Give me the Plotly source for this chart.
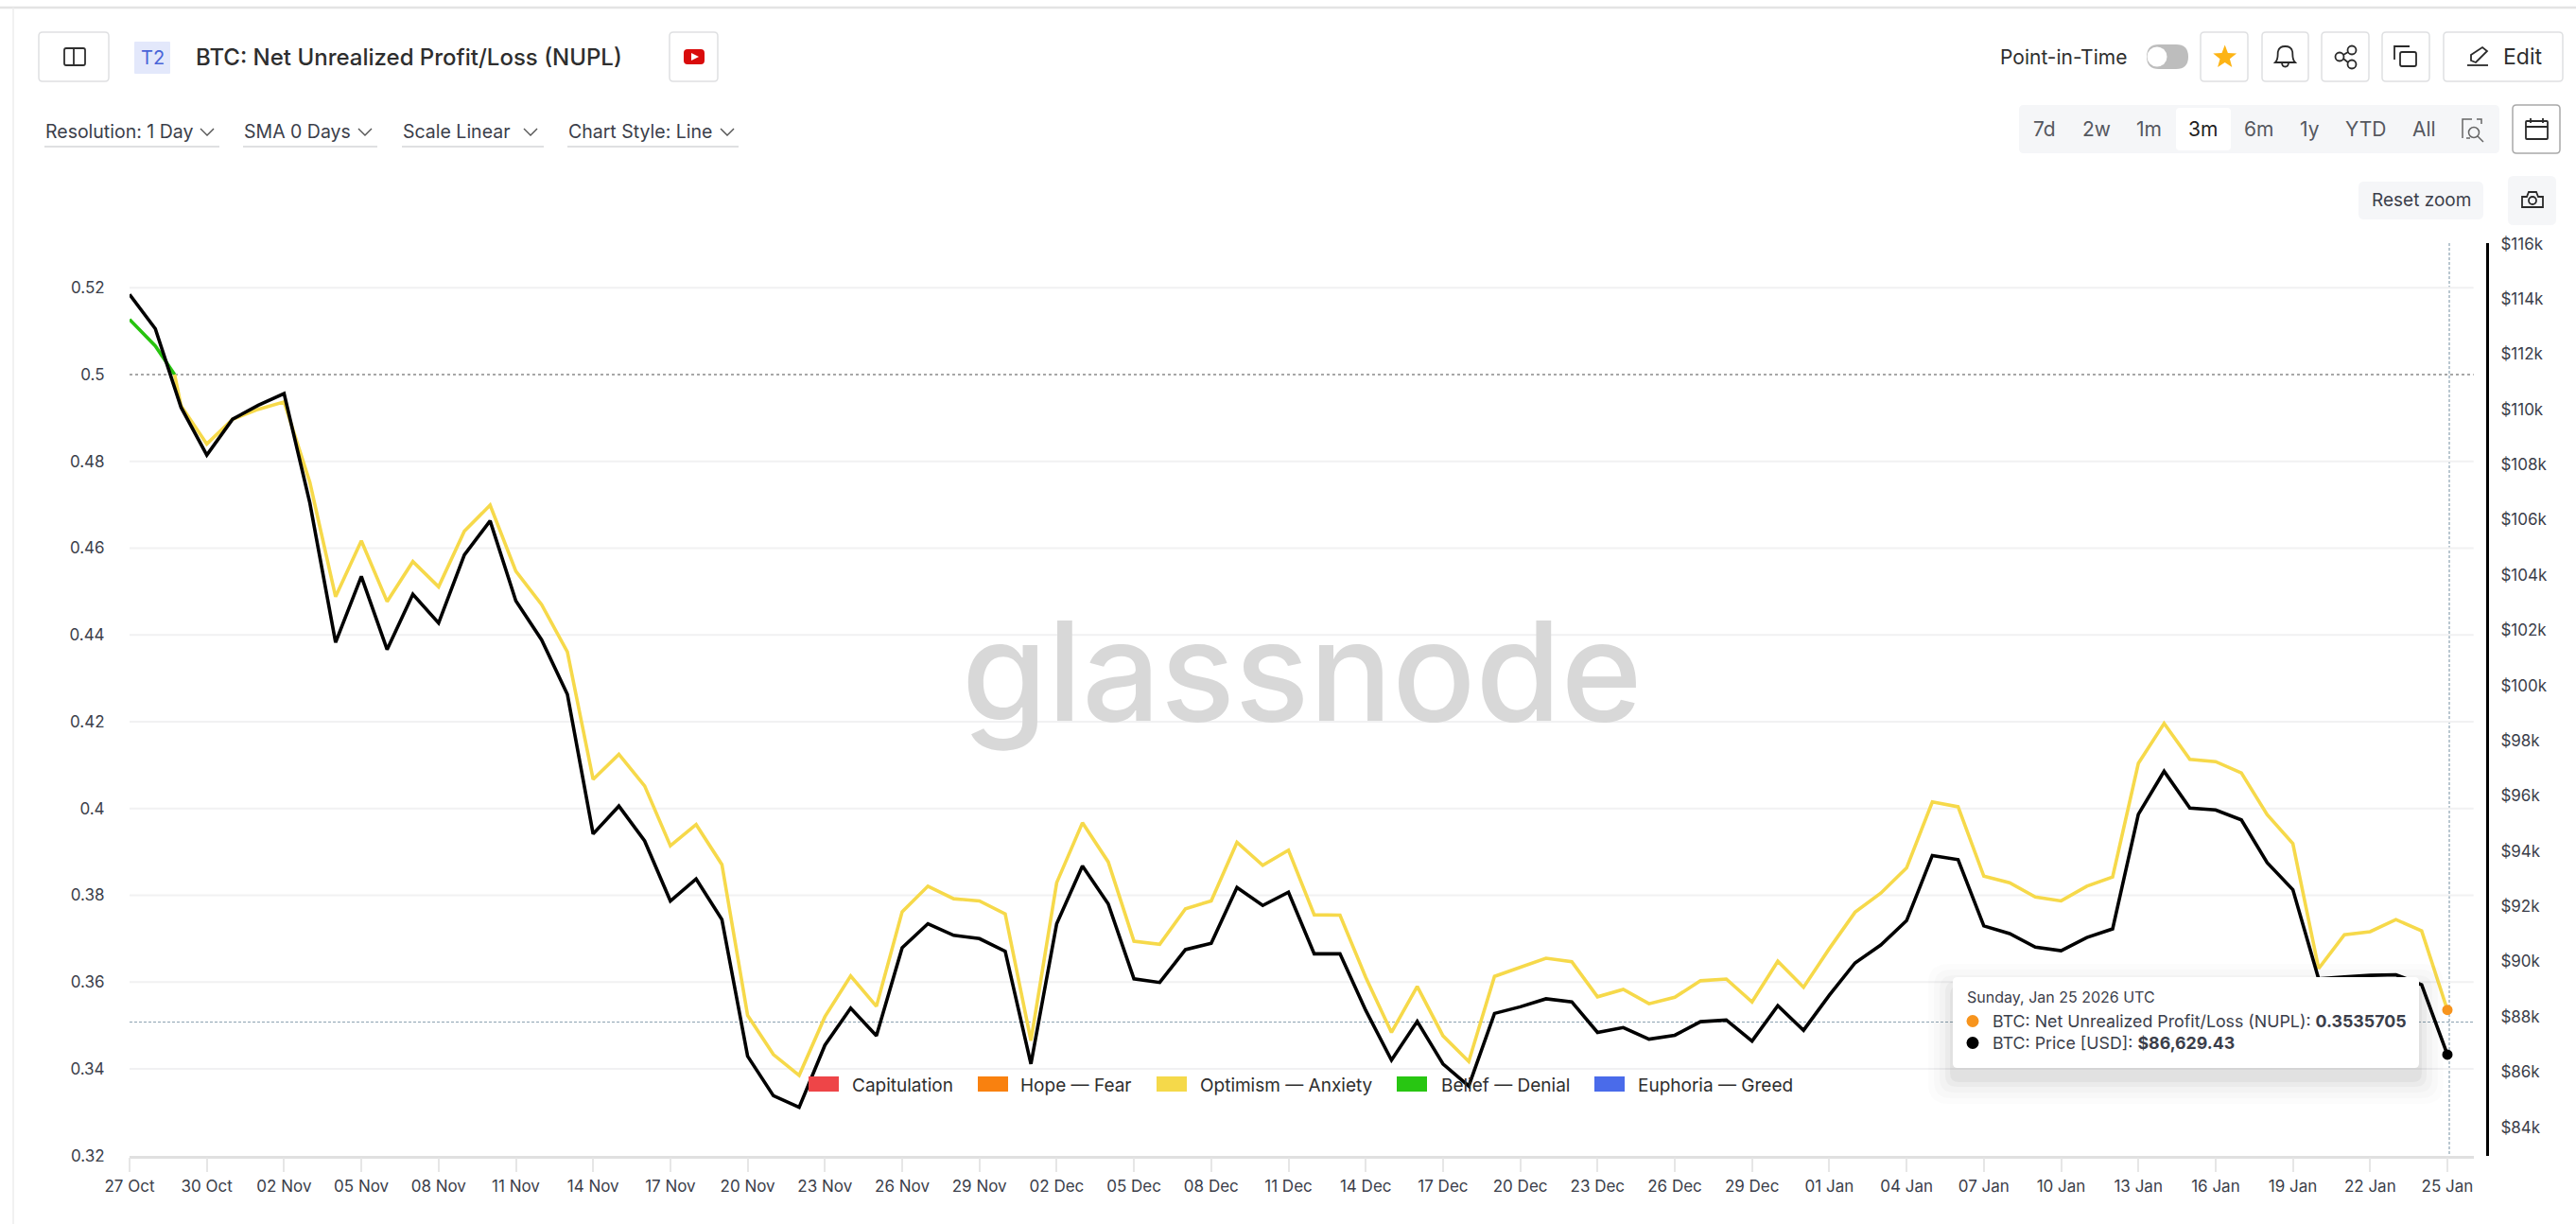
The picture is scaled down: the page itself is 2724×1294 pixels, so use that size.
import math
import re
import pandas as pd
import plotly.graph_objects as go

W = 2724
H = 1294
FONT = "Inter"
TEXT = "#3b3e4a"
BORDER = "#dfe0e2"
PANEL = "#f5f6f8"

# Daily values, 27 Oct 2025 to 25 Jan 2026
dates = pd.date_range("2025-10-27", periods=91, freq="D")

nupl = [
    0.5127, 0.5066, 0.4928, 0.4840, 0.4897, 0.4920, 0.4937, 0.4752, 0.4488, 0.4617,
    0.4477, 0.4569, 0.4511, 0.4639, 0.4699, 0.4547, 0.4470, 0.4361, 0.4067, 0.4125,
    0.4052, 0.3914, 0.3963, 0.3871, 0.3523, 0.3433, 0.3385, 0.3520, 0.3614, 0.3544,
    0.3762, 0.3821, 0.3792, 0.3787, 0.3757, 0.3465, 0.3829, 0.3967, 0.3877, 0.3694,
    0.3687, 0.3769, 0.3787, 0.3922, 0.3869, 0.3904, 0.3755, 0.3754, 0.3611, 0.3484,
    0.3590, 0.3476, 0.3417, 0.3613, 0.3634, 0.3655, 0.3647, 0.3566, 0.3583, 0.3550,
    0.3565, 0.3603, 0.3607, 0.3554, 0.3648, 0.3588, 0.3677, 0.3761, 0.3805, 0.3863,
    0.4015, 0.4004, 0.3844, 0.3829, 0.3796, 0.3787, 0.3821, 0.3842, 0.4104, 0.4196,
    0.4113, 0.4108, 0.4082, 0.3986, 0.3919, 0.3631, 0.3709, 0.3716, 0.3744, 0.3718,
    0.3535705,
]

price = [
    114160, 112920, 110070, 108340, 109640, 110150, 110570, 106610, 101560, 103950,
    101300, 103300, 102260, 104730, 105960, 103060, 101650, 99680, 94620, 95630,
    94370, 92190, 92990, 91520, 86570, 85140, 84720, 86970, 88310, 87310,
    90500, 91370, 90950, 90830, 90370, 86290, 91370, 93460, 92090, 89370,
    89240, 90430, 90660, 92680, 92030, 92510, 90280, 90280, 88230, 86430,
    87830, 86290, 85490, 88120, 88360, 88650, 88540, 87430, 87610, 87190,
    87330, 87820, 87880, 87120, 88400, 87510, 88780, 89950, 90600, 91480,
    93840, 93690, 91290, 91010, 90520, 90390, 90870, 91180, 95330, 96890,
    95560, 95490, 95130, 93580, 92600, 89370, 89440, 89500, 89520, 89160,
    86629.43,
]

# Where NUPL drops through 0.5 and the line turns from green to yellow
cross_date = pd.Timestamp("2025-10-28 18:00")
cross_value = 0.5

nupl_ticks = [0.32, 0.34, 0.36, 0.38, 0.4, 0.42, 0.44, 0.46, 0.48, 0.5, 0.52]
nupl_labels = ["0.32", "0.34", "0.36", "0.38", "0.4", "0.42", "0.44", "0.46", "0.48", "0.5", "0.52"]
price_ticks = list(range(84000, 118000, 2000))
price_labels = [f"${p // 1000}k" for p in price_ticks]

zones = ["Capitulation", "Hope — Fear", "Optimism — Anxiety", "Belief — Denial", "Euphoria — Greed"]
zone_colors = ["#ee4548", "#f9810f", "#f5d94a", "#28c612", "#4a6bea"]
zone_swatch_x = [855, 1034, 1223, 1477, 1686]
zone_text_x = [900, 1078, 1268, 1523, 1731]

dropdowns = ["Resolution: 1 Day", "SMA 0 Days", "Scale Linear", "Chart Style: Line"]
dropdown_x = [(47, 232, 219), (257, 399, 386), (425, 575, 561), (600, 781, 769)]

ranges = ["7d", "2w", "1m", "3m", "6m", "1y", "YTD", "All"]
range_x = [2162, 2217, 2272, 2329, 2388, 2442, 2501, 2563]


def fx(x):
    return x / W


def fy(y):
    return 1 - y / H


def to_paper(path):
    # Icon paths are written in screen pixels, shapes want paper fractions
    return re.sub(r"(-?[\d.]+),(-?[\d.]+)",
                  lambda m: f"{fx(float(m[1])):.5f},{fy(float(m[2])):.5f}", path)


def rrect(x0, y0, x1, y1, r):
    return (f"M{x0 + r},{y0} L{x1 - r},{y0} Q{x1},{y0} {x1},{y0 + r} L{x1},{y1 - r} "
            f"Q{x1},{y1} {x1 - r},{y1} L{x0 + r},{y1} Q{x0},{y1} {x0},{y1 - r} "
            f"L{x0},{y0 + r} Q{x0},{y0} {x0 + r},{y0} Z")


shapes = []
annotations = []


def path(d, line=None, fill=None, width=1.8, layer="above", dash=None):
    shapes.append(dict(type="path", path=to_paper(d), xref="paper", yref="paper", layer=layer,
                       line=dict(color=line or "rgba(0,0,0,0)", width=width if line else 0, dash=dash),
                       fillcolor=fill or "rgba(0,0,0,0)"))


def circle(cx, cy, r, line=None, fill=None, width=1.8, layer="above"):
    shapes.append(dict(type="circle", xref="paper", yref="paper", layer=layer,
                       x0=fx(cx - r), x1=fx(cx + r), y0=fy(cy + r), y1=fy(cy - r),
                       line=dict(color=line or "rgba(0,0,0,0)", width=width if line else 0),
                       fillcolor=fill or "rgba(0,0,0,0)"))


def text(x, y, s, size=20, color=TEXT, anchor="left", weight=400):
    annotations.append(dict(x=fx(x), y=fy(y), xref="paper", yref="paper", text=s, showarrow=False,
                            xanchor=anchor, yanchor="middle", borderpad=0,
                            font=dict(family=FONT, size=size, color=color, weight=weight)))


def button(x0, x1, y0=34, y1=86, border=BORDER):
    path(rrect(x0, y0, x1, y1, 4), line=border, fill="white", width=1.5)


# Page frame
path("M0,8 L2724,8", line="#e4e4e4", width=2.5)
path("M14,8 L14,1294", line="#ececec", width=1.5)

# Title row
button(41, 115)
path(rrect(68, 51, 90, 69, 2), line="#2f2f2f")
path("M78,51 L78,69", line="#2f2f2f")
path(rrect(142, 44, 180, 78, 1), fill="#e3e8fb")
text(161, 61, "T2", 20, "#4a64d8", "center")
text(206, 60, "BTC: Net Unrealized Profit/Loss (NUPL)", 24, "#2e2e2e", weight=500)
button(708, 759)
path(rrect(723, 52, 745, 68, 4), fill="#d90b0b")
path("M731,56 L739,60 L731,64 Z", fill="white")

# Dropdowns
for label, (x0, x1, chev) in zip(dropdowns, dropdown_x):
    text(x0, 139, label, 19.5)
    path(f"M{x0},155 L{x1},155", line=BORDER, width=1.8)
    path(f"M{chev - 7},136 L{chev},143 L{chev + 7},136", line="#555", width=1.4)

# Top right controls
text(2114, 60, "Point-in-Time", 21, "#2e2e2e")
path(rrect(2270, 47, 2314, 73, 13), fill="#bdbdbd")
circle(2281, 60, 10.5, fill="white")

button(2327, 2377)
star = []
for k in range(10):
    r = 13 if k % 2 == 0 else 5.5
    a = -math.pi / 2 + k * math.pi / 5
    star.append(f"{2352.7 + r * math.cos(a):.1f},{60.5 + r * math.sin(a):.1f}")
path("M" + " L".join(star) + " Z", fill="#fdb415")

button(2392, 2441)
path("M2406,66 C2410,62 2408,57 2409,54 C2410,50 2413,49 2416.5,49 C2420,49 2423,50 2424,54 "
     "C2425,57 2423,62 2427,66 Z", line="#2a2a2a")
path("M2413,66 C2413,72 2420,72 2420,66", line="#2a2a2a")

button(2455, 2505)
circle(2487, 53, 4.5, line="#2a2a2a")
circle(2474, 60, 4.5, line="#2a2a2a")
circle(2487, 68, 4.5, line="#2a2a2a")
path("M2478,58 L2483,55 M2478,62 L2483,66", line="#2a2a2a")

button(2519, 2569)
path(rrect(2538, 55, 2555, 70, 2), line="#2a2a2a")
path("M2532,63 L2532,49 L2548,49", line="#2a2a2a")

button(2584, 2710)
path("M2613,64 L2613,58 L2625,50 L2630,54 L2618,66 Z", line="#2a2a2a")
path("M2609,69 L2631,69", line="#2a2a2a")
text(2646, 60, "Edit", 23, "#2e2e2e")

# Range selector
path(rrect(2135, 111, 2643, 162, 5), fill=PANEL)
path(rrect(2301, 114, 2359, 159, 4), fill="white")
for label, x in zip(ranges, range_x):
    text(x, 136, label, 21, "#1f1f1f" if label == "3m" else "#55585f", "center")
path("M2614,126 L2604,126 L2604,146 M2608,146 L2612,146 M2619,126 L2624,126 L2624,131", line="#666", width=1.5)
circle(2616, 140, 5.5, line="#666", width=1.5)
path("M2620,144 L2626,150", line="#666", width=1.5)

button(2657, 2707, 111, 162, "#a9a9a9")
path(rrect(2671, 128, 2694, 147, 1), line="#2a2a2a")
path("M2671,134 L2694,134 M2676,125 L2676,130 M2689,125 L2689,130", line="#2a2a2a")

# Zoom controls
path(rrect(2494, 192, 2626, 232, 6), fill=PANEL)
text(2560, 212, "Reset zoom", 19, "#3b3e4a", "center")
path(rrect(2652, 186, 2703, 238, 6), fill=PANEL)
path("M2667,208 L2672,208 L2674,203 L2682,203 L2684,208 L2689,208 L2689,219 L2667,219 Z", line="#2a2a2a")
circle(2678, 212, 4, line="#2a2a2a")

# Watermark
text(1376, 709, "glassnode", 146, "#d8d8d8", "center", 500)

# Legend
for name, color, sx, tx in zip(zones, zone_colors, zone_swatch_x, zone_text_x):
    path(f"M{sx},1138 L{sx + 32},1138 L{sx + 32},1154 L{sx},1154 Z", fill=color)
    text(tx, 1147, name, 19, "#2e2e2e")

# Crosshair
path("M137,1080.5 L2616,1080.5", line="#8da3b2", width=1.2, layer="below", dash="3px,2px")
path("M2590,257 L2590,1221", line="#8da3b2", width=1.2, layer="below", dash="3px,2px")

# Tooltip with a soft stacked shadow
for grow, alpha in [(26, 0.012), (20, 0.016), (14, 0.02), (8, 0.03), (3, 0.04)]:
    path(rrect(2065 - grow, 1033 - grow + 12, 2558 + grow, 1129 + grow + 12, 8 + grow / 2),
         fill=f"rgba(0,0,0,{alpha})")
path(rrect(2065, 1033, 2558, 1129, 5), fill="white")
text(2079, 1054, "Sunday, Jan 25 2026 UTC", 16, "#3b3e4a")
circle(2086, 1079.5, 6.5, fill="#f7941d")
text(2106, 1079.5, "BTC: Net Unrealized Profit/Loss (NUPL): <b>0.3535705</b>", 17.8, "#3b3e4a")
circle(2086, 1102.5, 6.5, fill="black")
text(2106, 1102.5, "BTC: Price [USD]: <b>$86,629.43</b>", 17.8, "#3b3e4a")

fig = go.Figure()

fig.add_trace(go.Scatter(x=list(dates[:2]) + [cross_date], y=nupl[:2] + [cross_value], mode="lines",
                         line=dict(color="#27c30f", width=3.6), hoverinfo="skip", showlegend=False))
fig.add_trace(go.Scatter(x=[cross_date] + list(dates[2:]), y=[cross_value] + nupl[2:], mode="lines",
                         line=dict(color="#f6d94a", width=3.6), hoverinfo="skip", showlegend=False))
fig.add_trace(go.Scatter(x=dates, y=price, yaxis="y2", mode="lines",
                         line=dict(color="black", width=3.6), hoverinfo="skip", showlegend=False))
fig.add_trace(go.Scatter(x=[dates[-1]], y=[nupl[-1]], mode="markers",
                         marker=dict(color="#f7941d", size=11), hoverinfo="skip", showlegend=False))
fig.add_trace(go.Scatter(x=[dates[-1]], y=[price[-1]], yaxis="y2", mode="markers",
                         marker=dict(color="black", size=11), hoverinfo="skip", showlegend=False))

fig.update_layout(
    width=W,
    height=H,
    margin=dict(l=0, r=0, t=0, b=0, autoexpand=False),
    paper_bgcolor="white",
    plot_bgcolor="white",
    font=dict(family=FONT, size=17, color=TEXT),
    showlegend=False,
    xaxis=dict(
        domain=[fx(137), fx(2615.7)],
        type="date",
        range=["2025-10-27", "2026-01-26 00:24"],
        tick0="2025-10-27",
        dtick=3 * 86400000,
        tickformat="%d %b",
        showgrid=False,
        zeroline=False,
        showline=True,
        linecolor="#e0e0e0",
        linewidth=2.5,
        ticks="outside",
        ticklen=15,
        tickcolor="#e6e6e6",
        tickwidth=1.5,
    ),
    yaxis=dict(
        domain=[fy(1221.7), fy(257)],
        range=[0.32, 0.5303],
        tickmode="array",
        tickvals=nupl_ticks,
        ticktext=nupl_labels,
        showgrid=False,
        zeroline=False,
        showline=False,
        ticks="outside",
        ticklen=22,
        tickcolor="rgba(0,0,0,0)",
    ),
    yaxis2=dict(
        domain=[fy(1221.7), fy(257)],
        overlaying="y",
        side="right",
        anchor="free",
        position=fx(2630),
        range=[82970, 116020],
        tickmode="array",
        tickvals=price_ticks,
        ticktext=price_labels,
        showgrid=False,
        zeroline=False,
        showline=True,
        linecolor="black",
        linewidth=3,
        ticks="outside",
        ticklen=9,
        tickcolor="rgba(0,0,0,0)",
    ),
    shapes=shapes,
    annotations=annotations,
)

# Grid lines, 0.5 gets its own dotted line
for v in nupl_ticks[1:]:
    if v == 0.5:
        fig.add_hline(y=v, line=dict(color="#8a8a8a", width=1.5, dash="dot"), layer="below")
    else:
        fig.add_hline(y=v, line=dict(color="#f1f1f2", width=2), layer="below")

fig.write_html("out.html", config={"displayModeBar": False},
               post_script="document.body.style.margin='0';")
